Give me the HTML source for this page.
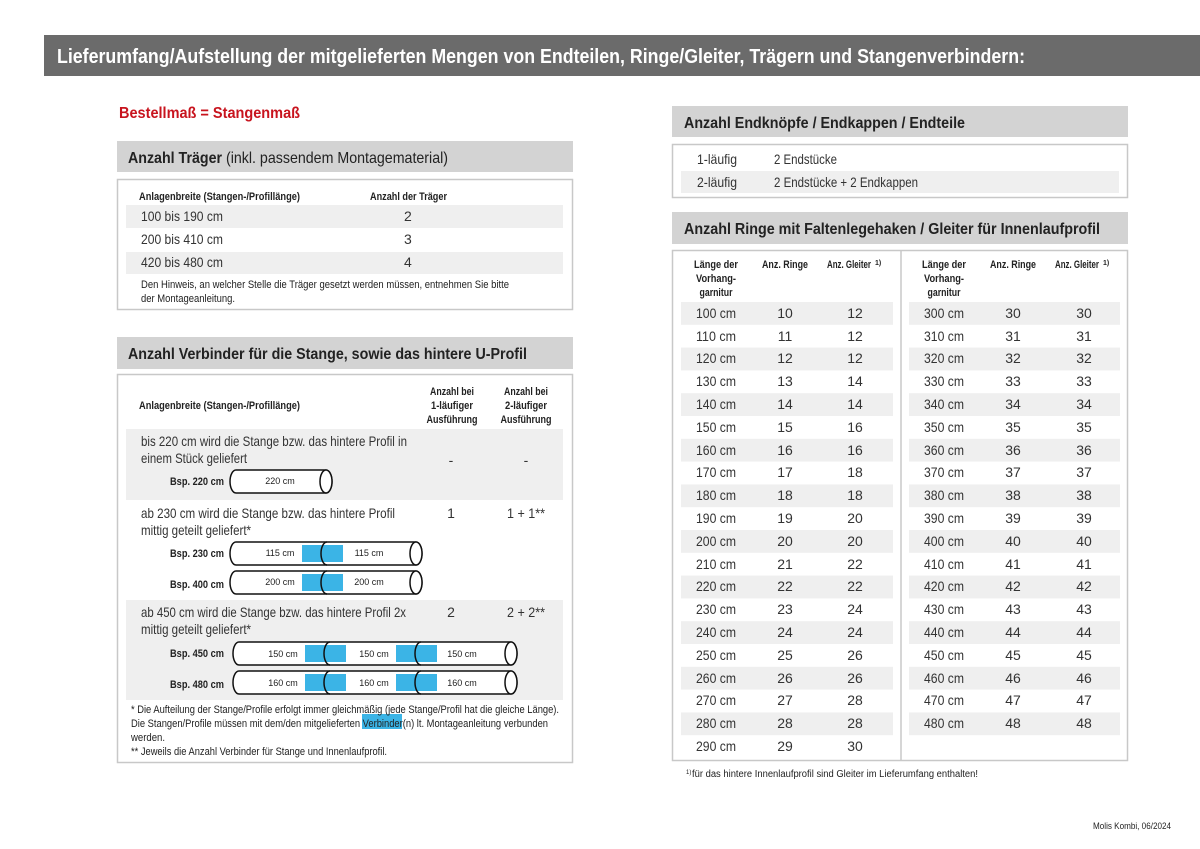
<!DOCTYPE html>
<html><head><meta charset="utf-8"><style>
html,body{margin:0;padding:0;background:#fff;width:1200px;height:849px;overflow:hidden}
svg{display:block}
text{font-family:"Liberation Sans Narrow","Liberation Sans",sans-serif;fill:#222}
.s{font-size:11px}
.m{font-size:14px;fill:#333}
.b{font-weight:bold}
.h{font-size:16px;font-weight:bold;fill:#222}
</style></head><body>
<svg width="1200" height="849" viewBox="0 0 1200 849">
<rect x="44" y="35" width="1156" height="41" fill="#6b6b6b"/>
<text x="57" y="63" font-size="20" font-weight="bold" style="fill:#fff" textLength="968" lengthAdjust="spacingAndGlyphs">Lieferumfang/Aufstellung der mitgelieferten Mengen von Endteilen, Ringe/Gleiter, Trägern und Stangenverbindern:</text>
<text x="119" y="118" font-size="16" font-weight="bold" style="fill:#c8141e" textLength="181" lengthAdjust="spacingAndGlyphs">Bestellmaß = Stangenmaß</text>

<!-- Träger -->
<rect x="117" y="141" width="456" height="31" fill="#d3d3d3"/>
<text x="128" y="163" class="h" textLength="320" lengthAdjust="spacingAndGlyphs">Anzahl Träger <tspan font-weight="normal">(inkl. passendem Montagematerial)</tspan></text>
<rect x="117.5" y="179.5" width="455" height="130" fill="#fff" stroke="#c8c8c8" stroke-width="1.5"/>
<text x="139" y="200" class="s b" textLength="161" lengthAdjust="spacingAndGlyphs">Anlagenbreite (Stangen-/Profillänge)</text>
<text x="370" y="200" class="s b" textLength="77" lengthAdjust="spacingAndGlyphs">Anzahl der Träger</text>
<rect x="126" y="205" width="437" height="23" fill="#efefef"/>
<rect x="126" y="252" width="437" height="22" fill="#efefef"/>
<text x="141" y="221" class="m" textLength="82" lengthAdjust="spacingAndGlyphs">100 bis 190 cm</text><text x="404" y="221" class="m">2</text>
<text x="141" y="244" class="m" textLength="82" lengthAdjust="spacingAndGlyphs">200 bis 410 cm</text><text x="404" y="244" class="m">3</text>
<text x="141" y="267" class="m" textLength="82" lengthAdjust="spacingAndGlyphs">420 bis 480 cm</text><text x="404" y="267" class="m">4</text>
<text x="141" y="288" class="s" textLength="368" lengthAdjust="spacingAndGlyphs">Den Hinweis, an welcher Stelle die Träger gesetzt werden müssen, entnehmen Sie bitte</text>
<text x="141" y="302" class="s" textLength="94" lengthAdjust="spacingAndGlyphs">der Montageanleitung.</text>

<!-- Verbinder -->
<rect x="117" y="337" width="456" height="32" fill="#d3d3d3"/>
<text x="128" y="359" class="h" textLength="399" lengthAdjust="spacingAndGlyphs">Anzahl Verbinder für die Stange, sowie das hintere U-Profil</text>
<rect x="117.5" y="374.5" width="455" height="388" fill="#fff" stroke="#c8c8c8" stroke-width="1.5"/>
<text x="139" y="409" class="s b" textLength="161" lengthAdjust="spacingAndGlyphs">Anlagenbreite (Stangen-/Profillänge)</text>
<text x="452" y="395" class="s b" text-anchor="middle" textLength="44" lengthAdjust="spacingAndGlyphs">Anzahl bei</text><text x="452" y="409" class="s b" text-anchor="middle" textLength="42" lengthAdjust="spacingAndGlyphs">1-läufiger</text><text x="452" y="423" class="s b" text-anchor="middle" textLength="51" lengthAdjust="spacingAndGlyphs">Ausführung</text>
<text x="526" y="395" class="s b" text-anchor="middle" textLength="44" lengthAdjust="spacingAndGlyphs">Anzahl bei</text><text x="526" y="409" class="s b" text-anchor="middle" textLength="42" lengthAdjust="spacingAndGlyphs">2-läufiger</text><text x="526" y="423" class="s b" text-anchor="middle" textLength="51" lengthAdjust="spacingAndGlyphs">Ausführung</text>
<rect x="126" y="429" width="437" height="71" fill="#efefef"/>
<rect x="126" y="600" width="437" height="100" fill="#efefef"/>
<text x="141" y="446" class="m" textLength="266" lengthAdjust="spacingAndGlyphs">bis 220 cm wird die Stange bzw. das hintere Profil in</text>
<text x="141" y="463" class="m" textLength="106" lengthAdjust="spacingAndGlyphs">einem Stück geliefert</text>
<text x="451" y="465" class="m" text-anchor="middle">-</text><text x="526" y="465" class="m" text-anchor="middle">-</text>
<text x="141" y="518" class="m" textLength="254" lengthAdjust="spacingAndGlyphs">ab 230 cm wird die Stange bzw. das hintere Profil</text>
<text x="141" y="535" class="m" textLength="110" lengthAdjust="spacingAndGlyphs">mittig geteilt geliefert*</text>
<text x="451" y="518" class="m" text-anchor="middle">1</text><text x="526" y="518" class="m" text-anchor="middle" textLength="38" lengthAdjust="spacingAndGlyphs">1 + 1**</text>
<text x="141" y="617" class="m" textLength="265" lengthAdjust="spacingAndGlyphs">ab 450 cm wird die Stange bzw. das hintere Profil 2x</text>
<text x="141" y="634" class="m" textLength="110" lengthAdjust="spacingAndGlyphs">mittig geteilt geliefert*</text>
<text x="451" y="617" class="m" text-anchor="middle">2</text><text x="526" y="617" class="m" text-anchor="middle" textLength="38" lengthAdjust="spacingAndGlyphs">2 + 2**</text>
<text x="170" y="485" class="s b" textLength="54" lengthAdjust="spacingAndGlyphs">Bsp. 220 cm</text>
<text x="170" y="557" class="s b" textLength="54" lengthAdjust="spacingAndGlyphs">Bsp. 230 cm</text>
<text x="170" y="588" class="s b" textLength="54" lengthAdjust="spacingAndGlyphs">Bsp. 400 cm</text>
<text x="170" y="657" class="s b" textLength="54" lengthAdjust="spacingAndGlyphs">Bsp. 450 cm</text>
<text x="170" y="688" class="s b" textLength="54" lengthAdjust="spacingAndGlyphs">Bsp. 480 cm</text>
<g fill="#fff" stroke="#111" stroke-width="1.5">
<rect x="230" y="470" width="102" height="23" rx="6" ry="11.5"/>
<ellipse cx="326" cy="481.5" rx="6" ry="11.5"/>
<rect x="230" y="542" width="192" height="23" rx="6" ry="11.5"/>
<rect x="230" y="571" width="192" height="23" rx="6" ry="11.5"/>
<rect x="233" y="642" width="284" height="23" rx="6" ry="11.5"/>
<rect x="233" y="671" width="284" height="23" rx="6" ry="11.5"/>
</g>
<g fill="#3bb4e6">
<rect x="302" y="545" width="41" height="17"/><rect x="302" y="574" width="41" height="17"/>
<rect x="305" y="645" width="41" height="17"/><rect x="396" y="645" width="41" height="17"/>
<rect x="305" y="674" width="41" height="17"/><rect x="396" y="674" width="41" height="17"/>
</g>
<g fill="none" stroke="#111" stroke-width="1.5">
<path d="M327 542 a6 11.5 0 0 0 0 23"/><path d="M327 571 a6 11.5 0 0 0 0 23"/>
<path d="M330 642 a6 11.5 0 0 0 0 23"/><path d="M421 642 a6 11.5 0 0 0 0 23"/>
<path d="M330 671 a6 11.5 0 0 0 0 23"/><path d="M421 671 a6 11.5 0 0 0 0 23"/>
<ellipse cx="416" cy="553.5" rx="6" ry="11.5" fill="#fff"/><ellipse cx="416" cy="582.5" rx="6" ry="11.5" fill="#fff"/>
<ellipse cx="511" cy="653.5" rx="6" ry="11.5" fill="#fff"/><ellipse cx="511" cy="682.5" rx="6" ry="11.5" fill="#fff"/>
</g>
<text x="280" y="484" font-size="9" text-anchor="middle">220 cm</text>
<text x="280" y="556" font-size="9" text-anchor="middle">115 cm</text><text x="369" y="556" font-size="9" text-anchor="middle">115 cm</text>
<text x="280" y="585" font-size="9" text-anchor="middle">200 cm</text><text x="369" y="585" font-size="9" text-anchor="middle">200 cm</text>
<text x="283" y="657" font-size="9" text-anchor="middle">150 cm</text><text x="374" y="657" font-size="9" text-anchor="middle">150 cm</text><text x="462" y="657" font-size="9" text-anchor="middle">150 cm</text>
<text x="283" y="686" font-size="9" text-anchor="middle">160 cm</text><text x="374" y="686" font-size="9" text-anchor="middle">160 cm</text><text x="462" y="686" font-size="9" text-anchor="middle">160 cm</text>
<rect x="362" y="714" width="40" height="15" fill="#3bb4e6"/>
<text x="131" y="713" class="s" textLength="428" lengthAdjust="spacingAndGlyphs">* Die Aufteilung der Stange/Profile erfolgt immer gleichmäßig (jede Stange/Profil hat die gleiche Länge).</text>
<text x="131" y="727" class="s" textLength="417" lengthAdjust="spacingAndGlyphs">Die Stangen/Profile müssen mit dem/den mitgelieferten Verbinder(n) lt. Montageanleitung verbunden</text>
<text x="131" y="741" class="s" textLength="34" lengthAdjust="spacingAndGlyphs">werden.</text>
<text x="131" y="755" class="s" textLength="256" lengthAdjust="spacingAndGlyphs">** Jeweils die Anzahl Verbinder für Stange und Innenlaufprofil.</text>

<!-- Endteile -->
<rect x="672" y="106" width="456" height="31" fill="#d3d3d3"/>
<text x="684" y="128" class="h" textLength="281" lengthAdjust="spacingAndGlyphs">Anzahl Endknöpfe / Endkappen / Endteile</text>
<rect x="672.5" y="144.5" width="455" height="53" fill="#fff" stroke="#c8c8c8" stroke-width="1.5"/>
<rect x="681" y="171" width="438" height="22" fill="#efefef"/>
<text x="697" y="164" class="m" textLength="40" lengthAdjust="spacingAndGlyphs">1-läufig</text><text x="774" y="164" class="m" textLength="63" lengthAdjust="spacingAndGlyphs">2 Endstücke</text>
<text x="697" y="187" class="m" textLength="40" lengthAdjust="spacingAndGlyphs">2-läufig</text><text x="774" y="187" class="m" textLength="144" lengthAdjust="spacingAndGlyphs">2 Endstücke + 2 Endkappen</text>

<!-- Ringe -->
<rect x="672" y="212" width="456" height="32" fill="#d3d3d3"/>
<text x="684" y="234" class="h" textLength="416" lengthAdjust="spacingAndGlyphs">Anzahl Ringe mit Faltenlegehaken / Gleiter für Innenlaufprofil</text>
<rect x="672.5" y="250.5" width="455" height="510" fill="#fff" stroke="#c8c8c8" stroke-width="1.5"/>
<line x1="901" y1="251" x2="901" y2="760" stroke="#c8c8c8" stroke-width="1.5"/>
<text x="716" y="268" class="s b" text-anchor="middle" textLength="44" lengthAdjust="spacingAndGlyphs">Länge der</text><text x="716" y="282" class="s b" text-anchor="middle" textLength="40" lengthAdjust="spacingAndGlyphs">Vorhang-</text><text x="716" y="296" class="s b" text-anchor="middle" textLength="33" lengthAdjust="spacingAndGlyphs">garnitur</text>
<text x="785" y="268" class="s b" text-anchor="middle" textLength="46" lengthAdjust="spacingAndGlyphs">Anz. Ringe</text><text x="827" y="268" class="s b" textLength="44" lengthAdjust="spacingAndGlyphs">Anz. Gleiter</text><text x="875" y="265" font-size="7" font-weight="bold">1)</text>
<text x="944" y="268" class="s b" text-anchor="middle" textLength="44" lengthAdjust="spacingAndGlyphs">Länge der</text><text x="944" y="282" class="s b" text-anchor="middle" textLength="40" lengthAdjust="spacingAndGlyphs">Vorhang-</text><text x="944" y="296" class="s b" text-anchor="middle" textLength="33" lengthAdjust="spacingAndGlyphs">garnitur</text>
<text x="1013" y="268" class="s b" text-anchor="middle" textLength="46" lengthAdjust="spacingAndGlyphs">Anz. Ringe</text><text x="1055" y="268" class="s b" textLength="44" lengthAdjust="spacingAndGlyphs">Anz. Gleiter</text><text x="1103" y="265" font-size="7" font-weight="bold">1)</text>
<g fill="#efefef">
<rect x="681" y="302" width="212" height="22.8"/><rect x="681" y="347.6" width="212" height="22.8"/><rect x="681" y="393.2" width="212" height="22.8"/><rect x="681" y="438.8" width="212" height="22.8"/><rect x="681" y="484.4" width="212" height="22.8"/><rect x="681" y="530" width="212" height="22.8"/><rect x="681" y="575.6" width="212" height="22.8"/><rect x="681" y="621.2" width="212" height="22.8"/><rect x="681" y="666.8" width="212" height="22.8"/><rect x="681" y="712.4" width="212" height="22.8"/>
<rect x="909" y="302" width="211" height="22.8"/><rect x="909" y="347.6" width="211" height="22.8"/><rect x="909" y="393.2" width="211" height="22.8"/><rect x="909" y="438.8" width="211" height="22.8"/><rect x="909" y="484.4" width="211" height="22.8"/><rect x="909" y="530" width="211" height="22.8"/><rect x="909" y="575.6" width="211" height="22.8"/><rect x="909" y="621.2" width="211" height="22.8"/><rect x="909" y="666.8" width="211" height="22.8"/><rect x="909" y="712.4" width="211" height="22.8"/>
</g>
<text x="696" y="318" class="m" textLength="40" lengthAdjust="spacingAndGlyphs">100 cm</text><text x="785" y="318" class="m" text-anchor="middle">10</text><text x="855" y="318" class="m" text-anchor="middle">12</text>
<text x="696" y="341" class="m" textLength="40" lengthAdjust="spacingAndGlyphs">110 cm</text><text x="785" y="341" class="m" text-anchor="middle">11</text><text x="855" y="341" class="m" text-anchor="middle">12</text>
<text x="696" y="363" class="m" textLength="40" lengthAdjust="spacingAndGlyphs">120 cm</text><text x="785" y="363" class="m" text-anchor="middle">12</text><text x="855" y="363" class="m" text-anchor="middle">12</text>
<text x="696" y="386" class="m" textLength="40" lengthAdjust="spacingAndGlyphs">130 cm</text><text x="785" y="386" class="m" text-anchor="middle">13</text><text x="855" y="386" class="m" text-anchor="middle">14</text>
<text x="696" y="409" class="m" textLength="40" lengthAdjust="spacingAndGlyphs">140 cm</text><text x="785" y="409" class="m" text-anchor="middle">14</text><text x="855" y="409" class="m" text-anchor="middle">14</text>
<text x="696" y="432" class="m" textLength="40" lengthAdjust="spacingAndGlyphs">150 cm</text><text x="785" y="432" class="m" text-anchor="middle">15</text><text x="855" y="432" class="m" text-anchor="middle">16</text>
<text x="696" y="455" class="m" textLength="40" lengthAdjust="spacingAndGlyphs">160 cm</text><text x="785" y="455" class="m" text-anchor="middle">16</text><text x="855" y="455" class="m" text-anchor="middle">16</text>
<text x="696" y="477" class="m" textLength="40" lengthAdjust="spacingAndGlyphs">170 cm</text><text x="785" y="477" class="m" text-anchor="middle">17</text><text x="855" y="477" class="m" text-anchor="middle">18</text>
<text x="696" y="500" class="m" textLength="40" lengthAdjust="spacingAndGlyphs">180 cm</text><text x="785" y="500" class="m" text-anchor="middle">18</text><text x="855" y="500" class="m" text-anchor="middle">18</text>
<text x="696" y="523" class="m" textLength="40" lengthAdjust="spacingAndGlyphs">190 cm</text><text x="785" y="523" class="m" text-anchor="middle">19</text><text x="855" y="523" class="m" text-anchor="middle">20</text>
<text x="696" y="546" class="m" textLength="40" lengthAdjust="spacingAndGlyphs">200 cm</text><text x="785" y="546" class="m" text-anchor="middle">20</text><text x="855" y="546" class="m" text-anchor="middle">20</text>
<text x="696" y="569" class="m" textLength="40" lengthAdjust="spacingAndGlyphs">210 cm</text><text x="785" y="569" class="m" text-anchor="middle">21</text><text x="855" y="569" class="m" text-anchor="middle">22</text>
<text x="696" y="591" class="m" textLength="40" lengthAdjust="spacingAndGlyphs">220 cm</text><text x="785" y="591" class="m" text-anchor="middle">22</text><text x="855" y="591" class="m" text-anchor="middle">22</text>
<text x="696" y="614" class="m" textLength="40" lengthAdjust="spacingAndGlyphs">230 cm</text><text x="785" y="614" class="m" text-anchor="middle">23</text><text x="855" y="614" class="m" text-anchor="middle">24</text>
<text x="696" y="637" class="m" textLength="40" lengthAdjust="spacingAndGlyphs">240 cm</text><text x="785" y="637" class="m" text-anchor="middle">24</text><text x="855" y="637" class="m" text-anchor="middle">24</text>
<text x="696" y="660" class="m" textLength="40" lengthAdjust="spacingAndGlyphs">250 cm</text><text x="785" y="660" class="m" text-anchor="middle">25</text><text x="855" y="660" class="m" text-anchor="middle">26</text>
<text x="696" y="683" class="m" textLength="40" lengthAdjust="spacingAndGlyphs">260 cm</text><text x="785" y="683" class="m" text-anchor="middle">26</text><text x="855" y="683" class="m" text-anchor="middle">26</text>
<text x="696" y="705" class="m" textLength="40" lengthAdjust="spacingAndGlyphs">270 cm</text><text x="785" y="705" class="m" text-anchor="middle">27</text><text x="855" y="705" class="m" text-anchor="middle">28</text>
<text x="696" y="728" class="m" textLength="40" lengthAdjust="spacingAndGlyphs">280 cm</text><text x="785" y="728" class="m" text-anchor="middle">28</text><text x="855" y="728" class="m" text-anchor="middle">28</text>
<text x="696" y="751" class="m" textLength="40" lengthAdjust="spacingAndGlyphs">290 cm</text><text x="785" y="751" class="m" text-anchor="middle">29</text><text x="855" y="751" class="m" text-anchor="middle">30</text>

<text x="924" y="318" class="m" textLength="40" lengthAdjust="spacingAndGlyphs">300 cm</text><text x="1013" y="318" class="m" text-anchor="middle">30</text><text x="1084" y="318" class="m" text-anchor="middle">30</text>
<text x="924" y="341" class="m" textLength="40" lengthAdjust="spacingAndGlyphs">310 cm</text><text x="1013" y="341" class="m" text-anchor="middle">31</text><text x="1084" y="341" class="m" text-anchor="middle">31</text>
<text x="924" y="363" class="m" textLength="40" lengthAdjust="spacingAndGlyphs">320 cm</text><text x="1013" y="363" class="m" text-anchor="middle">32</text><text x="1084" y="363" class="m" text-anchor="middle">32</text>
<text x="924" y="386" class="m" textLength="40" lengthAdjust="spacingAndGlyphs">330 cm</text><text x="1013" y="386" class="m" text-anchor="middle">33</text><text x="1084" y="386" class="m" text-anchor="middle">33</text>
<text x="924" y="409" class="m" textLength="40" lengthAdjust="spacingAndGlyphs">340 cm</text><text x="1013" y="409" class="m" text-anchor="middle">34</text><text x="1084" y="409" class="m" text-anchor="middle">34</text>
<text x="924" y="432" class="m" textLength="40" lengthAdjust="spacingAndGlyphs">350 cm</text><text x="1013" y="432" class="m" text-anchor="middle">35</text><text x="1084" y="432" class="m" text-anchor="middle">35</text>
<text x="924" y="455" class="m" textLength="40" lengthAdjust="spacingAndGlyphs">360 cm</text><text x="1013" y="455" class="m" text-anchor="middle">36</text><text x="1084" y="455" class="m" text-anchor="middle">36</text>
<text x="924" y="477" class="m" textLength="40" lengthAdjust="spacingAndGlyphs">370 cm</text><text x="1013" y="477" class="m" text-anchor="middle">37</text><text x="1084" y="477" class="m" text-anchor="middle">37</text>
<text x="924" y="500" class="m" textLength="40" lengthAdjust="spacingAndGlyphs">380 cm</text><text x="1013" y="500" class="m" text-anchor="middle">38</text><text x="1084" y="500" class="m" text-anchor="middle">38</text>
<text x="924" y="523" class="m" textLength="40" lengthAdjust="spacingAndGlyphs">390 cm</text><text x="1013" y="523" class="m" text-anchor="middle">39</text><text x="1084" y="523" class="m" text-anchor="middle">39</text>
<text x="924" y="546" class="m" textLength="40" lengthAdjust="spacingAndGlyphs">400 cm</text><text x="1013" y="546" class="m" text-anchor="middle">40</text><text x="1084" y="546" class="m" text-anchor="middle">40</text>
<text x="924" y="569" class="m" textLength="40" lengthAdjust="spacingAndGlyphs">410 cm</text><text x="1013" y="569" class="m" text-anchor="middle">41</text><text x="1084" y="569" class="m" text-anchor="middle">41</text>
<text x="924" y="591" class="m" textLength="40" lengthAdjust="spacingAndGlyphs">420 cm</text><text x="1013" y="591" class="m" text-anchor="middle">42</text><text x="1084" y="591" class="m" text-anchor="middle">42</text>
<text x="924" y="614" class="m" textLength="40" lengthAdjust="spacingAndGlyphs">430 cm</text><text x="1013" y="614" class="m" text-anchor="middle">43</text><text x="1084" y="614" class="m" text-anchor="middle">43</text>
<text x="924" y="637" class="m" textLength="40" lengthAdjust="spacingAndGlyphs">440 cm</text><text x="1013" y="637" class="m" text-anchor="middle">44</text><text x="1084" y="637" class="m" text-anchor="middle">44</text>
<text x="924" y="660" class="m" textLength="40" lengthAdjust="spacingAndGlyphs">450 cm</text><text x="1013" y="660" class="m" text-anchor="middle">45</text><text x="1084" y="660" class="m" text-anchor="middle">45</text>
<text x="924" y="683" class="m" textLength="40" lengthAdjust="spacingAndGlyphs">460 cm</text><text x="1013" y="683" class="m" text-anchor="middle">46</text><text x="1084" y="683" class="m" text-anchor="middle">46</text>
<text x="924" y="705" class="m" textLength="40" lengthAdjust="spacingAndGlyphs">470 cm</text><text x="1013" y="705" class="m" text-anchor="middle">47</text><text x="1084" y="705" class="m" text-anchor="middle">47</text>
<text x="924" y="728" class="m" textLength="40" lengthAdjust="spacingAndGlyphs">480 cm</text><text x="1013" y="728" class="m" text-anchor="middle">48</text><text x="1084" y="728" class="m" text-anchor="middle">48</text>
<text x="686" y="774" font-size="6">1)</text>
<text x="692" y="777" font-size="10" textLength="286" lengthAdjust="spacingAndGlyphs">für das hintere Innenlaufprofil sind Gleiter im Lieferumfang enthalten!</text>
<text x="1171" y="829" font-size="9" text-anchor="end" textLength="78" lengthAdjust="spacingAndGlyphs">Molis Kombi, 06/2024</text>
</svg>
</body></html>
